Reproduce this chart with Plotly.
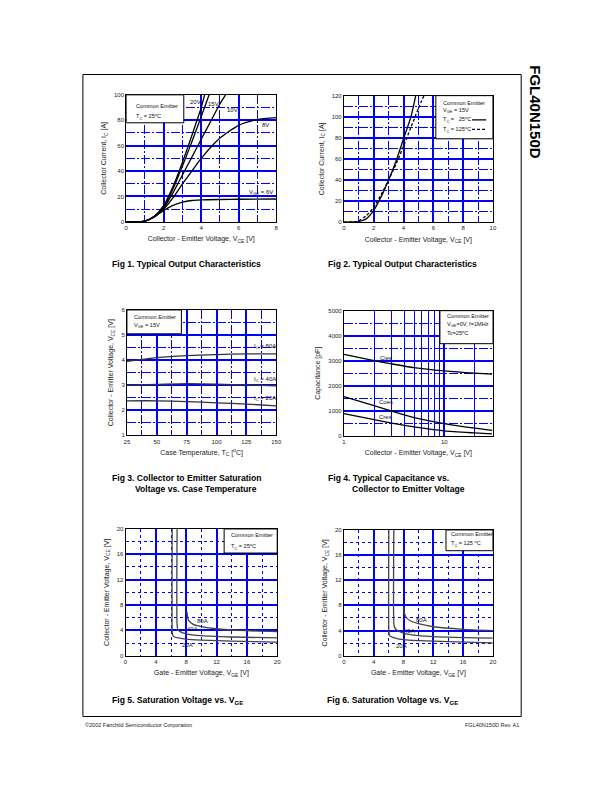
import math
import plotly.graph_objects as go

# ---------------- DATA ----------------
# Fig 1: Typical output characteristics (Tc = 25C), IC vs VCE for several VGE
F1_VCE_20 = [0, 0.8, 1.0, 1.5, 2.0, 2.5, 3.0, 3.5, 4.0, 4.18]
F1_IC_20 = [0, 0.1, 0.6, 4.5, 13, 28, 47, 68, 90, 100]
F1_VCE_15 = [0, 0.8, 1.0, 1.5, 2.0, 2.5, 3.0, 3.5, 4.0, 4.42]
F1_IC_15 = [0, 0.1, 0.6, 4.3, 12, 26, 44, 63, 83, 100]
F1_VCE_10 = [0, 0.8, 1.0, 1.5, 2.0, 2.5, 3.0, 3.5, 4.0, 4.5, 5.0, 5.3]
F1_IC_10 = [0, 0.1, 0.6, 4.0, 11, 23, 37, 51, 65, 79, 93, 100]
F1_VCE_8 = [0, 0.8, 1.0, 1.5, 2.0, 2.5, 3.0, 3.5, 4.0, 5.0, 6.0, 7.0, 8.0]
F1_IC_8 = [0, 0.1, 0.6, 3.8, 10, 19, 30, 40, 50, 66, 76, 80.5, 82]
F1_VCE_6 = [0, 0.8, 1.0, 1.5, 2.0, 2.5, 3.0, 3.5, 4.0, 5.0, 6.0, 8.0]
F1_IC_6 = [0, 0.1, 0.6, 4.0, 9, 13, 15.5, 16.8, 17.3, 17.6, 17.8, 18]
F1_LABELS = ["20V", "15V", "10V", "8V", "V<sub>GE</sub> = 6V"]
F1_LABEL_X = [3.68, 4.65, 5.65, 7.45, 7.2]
F1_LABEL_Y = [94, 93, 88, 76, 23]

# Fig 2: IC vs VCE at VGE = 15V, Tc = 25C and 125C
F2_VCE_25 = [0, 0.8, 1.0, 1.5, 2.0, 2.5, 3.0, 3.5, 4.0, 4.5, 4.82]
F2_IC_25 = [0, 0.1, 0.5, 3, 11, 24, 40, 58, 79, 100, 120]
F2_VCE_125 = [0, 0.6, 0.8, 1.0, 1.5, 2.0, 2.5, 3.0, 3.5, 4.0, 4.5, 5.0, 5.37]
F2_IC_125 = [0, 0.1, 0.4, 1.3, 6, 14, 26, 40, 55, 72, 90, 108, 120]

# Fig 3: VCE(sat) vs case temperature, VGE = 15V
F3_TC = [25, 50, 75, 100, 125, 150]
F3_V_80 = [3.95, 4.1, 4.18, 4.22, 4.25, 4.25]
F3_V_40 = [3.0, 3.03, 3.06, 3.04, 3.01, 2.98]
F3_V_20 = [2.38, 2.38, 2.35, 2.3, 2.25, 2.18]
F3_LABELS = ["I<sub>C</sub> = 80A", "I<sub>C</sub> = 40A", "I<sub>C</sub> = 20A"]
F3_LABEL_Y = [4.55, 3.24, 2.48]

# Fig 4: Capacitance vs VCE
F4_VCE = [1, 2, 3, 5, 10, 20, 30]
F4_CIES = [3250, 3000, 2870, 2720, 2590, 2500, 2460]
F4_COES = [1560, 1200, 980, 720, 480, 300, 210]
F4_CRES = [880, 640, 500, 350, 190, 110, 70]
F4_LABELS = ["Cies", "Coes", "Cres"]
F4_LABEL_Y = [3120, 1350, 730]

# Fig 5: VCE vs VGE, Tc = 25C
F5_VGE_20 = [6.15, 6.15, 6.2, 6.4, 7.0, 8.0, 10, 14, 20]
F5_VCE_20 = [20, 4.0, 3.3, 3.0, 2.8, 2.6, 2.45, 2.3, 2.15]
F5_VGE_40 = [6.8, 6.8, 6.9, 7.2, 8.0, 10, 14, 20]
F5_VCE_40 = [20, 4.8, 4.1, 3.8, 3.45, 3.15, 2.95, 2.8]
F5_VGE_80 = [8.1, 8.3, 9.0, 10, 12, 16, 20]
F5_VCE_80 = [6.9, 5.6, 4.9, 4.6, 4.25, 3.95, 3.8]
F5_LABEL_X = [10.1, 8.8, 8.2]
F5_LABEL_Y = [5.4, 4.2, 1.7]

# Fig 6: VCE vs VGE, Tc = 125C
F6_VGE_20 = [6.03, 6.03, 6.1, 6.3, 7.0, 8.0, 10, 14, 20]
F6_VCE_20 = [20, 4.0, 3.3, 3.05, 2.75, 2.55, 2.4, 2.25, 2.05]
F6_VGE_40 = [6.7, 6.7, 6.8, 7.1, 8.0, 10, 14, 20]
F6_VCE_40 = [20, 5.2, 4.5, 4.1, 3.6, 3.2, 2.95, 2.8]
F6_VGE_80 = [8.1, 8.1, 8.5, 9.2, 10, 12, 16, 20]
F6_VCE_80 = [7.8, 6.8, 5.9, 5.4, 5.1, 4.6, 4.2, 4.0]
F6_LABEL_X = [10.4, 8.8, 7.7]
F6_LABEL_Y = [5.7, 4.0, 1.6]

CURRENT_LABELS = ["80A", "40A", "20A"]

FIG_TITLES = [
    "Fig 1. Typical Output Characteristics",
    "Fig 2. Typical Output Characteristics",
    "Fig 3. Collector to Emitter Saturation",
    "Fig 4. Typical Capacitance vs.",
    "Fig 5. Saturation Voltage vs. V<sub>GE</sub>",
    "Fig 6. Saturation Voltage vs. V<sub>GE</sub>",
]
FIG_SUBTITLES = ["Voltage vs. Case Temperature", "Collector to Emitter Voltage"]

# ---------------- STYLE / LAYOUT ----------------
# page body has an 8px default margin, so the figure is 16px smaller than the window
OFF = 8
W, H = 612 - 2 * OFF, 792 - 2 * OFF
FONT = "Liberation Sans, Arial, sans-serif"
BLUE = "#0000FF"
DASHDOT = "9px,2px,2px,2px"
LEG_SIZE = 5.6


def px(x):
    return (x - OFF) / W


def py(y):
    return 1 - (y - OFF) / H


# plot-area pixel boxes in window coordinates: (left, right, top, bottom)
BOXES = [
    (125, 277.3, 92.5, 220.5),
    (346, 497.3, 93.3, 220.7),
    (125.7, 277.3, 309.3, 435.7),
    (346, 497.3, 310, 436),
    (124.3, 278.3, 530, 657.7),
    (346, 497.3, 531, 657.7),
]

fig = go.Figure()


def axis_common(title, minor_dash):
    return dict(
        showline=True, linecolor="black", linewidth=1, mirror=True,
        ticks="", showgrid=True, gridcolor=BLUE, gridwidth=1.6,
        zeroline=False,
        tickfont=dict(size=6, family=FONT, color="#222"),
        title=dict(text=title, font=dict(size=7, family=FONT, color="#222"), standoff=6),
        minor=dict(showgrid=True, gridcolor=BLUE, gridwidth=1.0, griddash=minor_dash),
    )


layout = dict(
    width=W, height=H, margin=dict(l=0, r=0, t=0, b=0),
    paper_bgcolor="white", plot_bgcolor="white", showlegend=False,
    font=dict(family=FONT),
)

axis_specs = [
    ("Collector - Emitter Voltage, V<sub>CE</sub> [V]", "Collector Current, I<sub>C</sub> [A]",
     [0, 8], [0, 100], 2, 1, 20, 10, DASHDOT),
    ("Collector - Emitter Voltage, V<sub>CE</sub> [V]", "Collector Current, I<sub>C</sub> [A]",
     [0, 10], [0, 120], 2, 1, 20, 10, DASHDOT),
    ("Case Temperature, T<sub>C</sub> [<sup>o</sup>C]", "Collector - Emitter Voltage, V<sub>CE</sub> [V]",
     [25, 150], [1, 6], 25, 12.5, 1, 0.5, DASHDOT),
    ("Collector - Emitter Voltage, V<sub>CE</sub> [V]", "Capacitance [pF]",
     None, [0, 5000], None, None, 1000, 500, DASHDOT),
    ("Gate - Emitter Voltage, V<sub>GE</sub> [V]", "Collector - Emitter Voltage, V<sub>CE</sub> [V]",
     [0, 20], [0, 20], 4, 2, 4, 2, "dot"),
    ("Gate - Emitter Voltage, V<sub>GE</sub> [V]", "Collector - Emitter Voltage, V<sub>CE</sub> [V]",
     [0, 20], [0, 20], 4, 2, 4, 2, "dot"),
]

for i, (box, spec) in enumerate(zip(BOXES, axis_specs)):
    n = "" if i == 0 else str(i + 1)
    l, r, t, b = box
    xt, yt, xr, yr, xd, xm, yd, ym, md = spec
    xa = axis_common(xt, md)
    ya = axis_common(yt, md)
    xa.update(domain=[px(l), px(r)], anchor="y" + n)
    ya.update(domain=[py(b), py(t)], anchor="x" + n)
    if i == 3:
        xa.update(type="log", range=[0, 1.485], tickvals=[1, 10])
        xa["minor"] = dict(showgrid=True, dtick="D1", gridcolor=BLUE, gridwidth=1.4,
                           griddash="solid")
    else:
        xa.update(range=xr, dtick=xd, tick0=xr[0])
        xa["minor"]["dtick"] = xm
        xa["minor"]["tick0"] = xr[0]
    ya.update(range=yr, dtick=yd, tick0=yr[0], tickformat="d")
    ya["minor"]["dtick"] = ym
    ya["minor"]["tick0"] = yr[0]
    layout["xaxis" + n] = xa
    layout["yaxis" + n] = ya

fig.update_layout(**layout)


def add_line(x, y, k, color="black", width=1.3, dash="solid"):
    n = "" if k == 1 else str(k)
    fig.add_trace(go.Scatter(x=x, y=y, mode="lines", xaxis="x" + n, yaxis="y" + n,
                             line=dict(color=color, width=width, dash=dash, shape="spline",
                                       smoothing=0.6),
                             hoverinfo="skip"))


annotations = []
shapes = []


def txt(k, x, y, s, size=6, anchor="left", color="#111", logx=False):
    n = "" if k == 1 else str(k)
    annotations.append(dict(x=math.log10(x) if logx else x, y=y, xref="x" + n, yref="y" + n,
                            text=s, showarrow=False, xanchor=anchor, yanchor="middle",
                            font=dict(size=size, family=FONT, color=color)))


def legend_box(k, x0, y0, x1, y1):
    n = "" if k == 1 else str(k)
    shapes.append(dict(type="rect", xref="x" + n, yref="y" + n, x0=x0, y0=y0, x1=x1, y1=y1,
                       fillcolor="white", line=dict(color="black", width=1), layer="above"))


# Fig 1
for xs, ys in [(F1_VCE_20, F1_IC_20), (F1_VCE_15, F1_IC_15), (F1_VCE_10, F1_IC_10),
               (F1_VCE_8, F1_IC_8), (F1_VCE_6, F1_IC_6)]:
    add_line(xs, ys, 1)
for s, x, y in zip(F1_LABELS, F1_LABEL_X, F1_LABEL_Y):
    txt(1, x, y, s, anchor="center")
legend_box(1, 0, 78, 3.07, 100)
txt(1, 0.42, 91, "Common Emitter", size=LEG_SIZE)
txt(1, 0.42, 83, "T<sub>C</sub> = 25<sup>o</sup>C", size=LEG_SIZE)

# Fig 2
add_line(F2_VCE_25, F2_IC_25, 2)
add_line(F2_VCE_125, F2_IC_125, 2, dash="3px,2px", width=1.3)
legend_box(2, 6.17, 79, 10, 120)
txt(2, 6.5, 113, "Common Emitter", size=LEG_SIZE)
txt(2, 6.5, 106, "V<sub>GE</sub> = 15V", size=LEG_SIZE)
txt(2, 6.5, 97, "T<sub>C</sub> =   25<sup>o</sup>C", size=LEG_SIZE)
txt(2, 6.5, 88, "T<sub>C</sub> = 125<sup>o</sup>C", size=LEG_SIZE)
shapes.append(dict(type="line", xref="x2", yref="y2", x0=8.6, x1=9.55, y0=97, y1=97,
                   line=dict(color="black", width=1.3), layer="above"))
shapes.append(dict(type="line", xref="x2", yref="y2", x0=8.6, x1=9.55, y0=88, y1=88,
                   line=dict(color="black", width=1.2, dash="3px,2px"), layer="above"))

# Fig 3
for ys in [F3_V_80, F3_V_40, F3_V_20]:
    add_line(F3_TC, ys, 3, color="#333", width=1.3)
for s, y in zip(F3_LABELS, F3_LABEL_Y):
    txt(3, 141, y, s, anchor="center")
legend_box(3, 25, 5.05, 70.6, 6)
txt(3, 29.5, 5.71, "Common Emitter", size=LEG_SIZE)
txt(3, 29.5, 5.38, "V<sub>GE</sub> = 15V", size=LEG_SIZE)

# Fig 4 (log x axis: annotation x positions are given in log10 units)
for ys in [F4_CIES, F4_COES, F4_CRES]:
    add_line(F4_VCE, ys, 4)
for s, y in zip(F4_LABELS, F4_LABEL_Y):
    txt(4, 2.6, y, s, anchor="center", logx=True)
legend_box(4, 9.06, 3680, 30.6, 5000)
txt(4, 10.1, 4775, "Common Emitter", size=LEG_SIZE, logx=True)
txt(4, 10.1, 4444, "V<sub>GE</sub>=0V, f=1MHz", size=LEG_SIZE, logx=True)
txt(4, 10.1, 4114, "Tc=25<sup>o</sup>C", size=LEG_SIZE, logx=True)

# Fig 5
for xs, ys in [(F5_VGE_80, F5_VCE_80), (F5_VGE_40, F5_VCE_40), (F5_VGE_20, F5_VCE_20)]:
    add_line(xs, ys, 5, color="#444", width=1.3)
for s, x, y in zip(CURRENT_LABELS, F5_LABEL_X, F5_LABEL_Y):
    txt(5, x, y, s, anchor="center")
legend_box(5, 13.0, 16.2, 20, 20)
txt(5, 13.6, 19.06, "Common Emitter", size=LEG_SIZE)
txt(5, 13.6, 17.3, "T<sub>C</sub> = 25<sup>o</sup>C", size=LEG_SIZE)

# Fig 6
for xs, ys in [(F6_VGE_80, F6_VCE_80), (F6_VGE_40, F6_VCE_40), (F6_VGE_20, F6_VCE_20)]:
    add_line(xs, ys, 6, color="#444", width=1.3)
for s, x, y in zip(CURRENT_LABELS, F6_LABEL_X, F6_LABEL_Y):
    txt(6, x, y, s, anchor="center")
legend_box(6, 13.7, 16.7, 20, 20)
txt(6, 14.1, 19.3, "Common Emitter", size=LEG_SIZE)
txt(6, 14.1, 17.9, "T<sub>C</sub> = 125 <sup>o</sup>C", size=LEG_SIZE)

# Figure captions (window pixel coords)
CAP_FONT = dict(size=8.6, family=FONT, color="black")
cap_pos = [(109, 263), (328, 263), (109, 479), (328, 479), (109, 703), (327, 703)]
for s, (x, y) in zip(FIG_TITLES, cap_pos):
    annotations.append(dict(x=px(x), y=py(y), xref="paper", yref="paper", text="<b>" + s + "</b>",
                            showarrow=False, xanchor="left", yanchor="middle", font=CAP_FONT))
for s, (x, y) in zip(FIG_SUBTITLES, [(132, 490), (352, 490)]):
    annotations.append(dict(x=px(x), y=py(y), xref="paper", yref="paper", text="<b>" + s + "</b>",
                            showarrow=False, xanchor="left", yanchor="middle", font=CAP_FONT))

# Page title, border, footer
annotations.append(dict(x=px(541), y=py(110), xref="paper", yref="paper", text="<b>FGL40N150D</b>",
                        showarrow=False, textangle=90, xanchor="center", yanchor="middle",
                        font=dict(size=15, family=FONT, color="black")))
annotations.append(dict(x=px(81), y=py(728), xref="paper", yref="paper",
                        text="\u00a92002 Fairchild Semiconductor Corporation",
                        showarrow=False, xanchor="left", yanchor="middle",
                        font=dict(size=5.5, family=FONT, color="#222")))
annotations.append(dict(x=px(526), y=py(728), xref="paper", yref="paper",
                        text="FGL40N150D Rev. A1",
                        showarrow=False, xanchor="right", yanchor="middle",
                        font=dict(size=5.5, family=FONT, color="#222")))
shapes.append(dict(type="rect", xref="paper", yref="paper", x0=px(81), x1=px(526),
                   y0=py(719), y1=py(72), line=dict(color="black", width=1)))

fig.update_layout(annotations=annotations, shapes=shapes)
fig.write_html("out.html")
